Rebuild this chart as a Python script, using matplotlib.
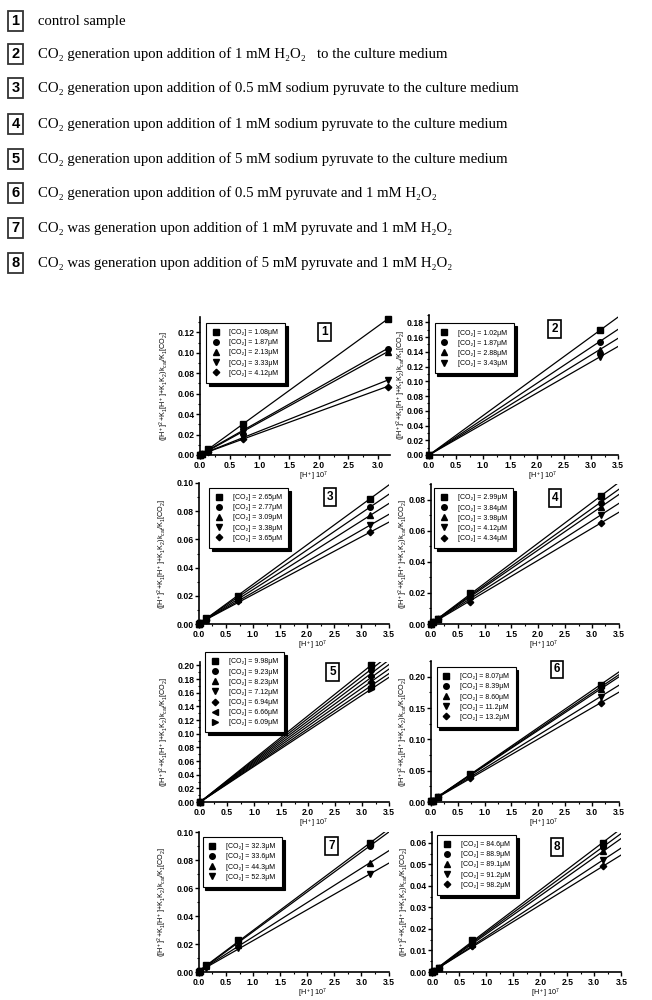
import numpy as np
import matplotlib
matplotlib.use('Agg')
import matplotlib.pyplot as plt
from matplotlib.ticker import MultipleLocator, FormatStrFormatter

# condition descriptions (numbered boxes at top)
conditions = [
    'control sample',
    'CO\u2082 generation upon addition of 1 mM H\u2082O\u2082   to the culture medium',
    'CO\u2082 generation upon addition of 0.5 mM sodium pyruvate to the culture medium',
    'CO\u2082 generation upon addition of 1 mM sodium pyruvate to the culture medium',
    'CO\u2082 generation upon addition of 5 mM sodium pyruvate to the culture medium',
    'CO\u2082 generation upon addition of 0.5 mM pyruvate and 1 mM H\u2082O\u2082',
    'CO\u2082 was generation upon addition of 1 mM pyruvate and 1 mM H\u2082O\u2082',
    'CO\u2082 was generation upon addition of 5 mM pyruvate and 1 mM H\u2082O\u2082',
]

# [H+] 10^7 values
h_full = [0.0, 0.03, 0.13, 0.73, 3.16]
h_two = [0.0, 3.16]

# CO2 concentrations (uM) per panel
co2_1 = ['1.08', '1.87', '2.13', '3.33', '4.12']
co2_2 = ['1.02', '1.87', '2.88', '3.43']
co2_3 = ['2.65', '2.77', '3.09', '3.38', '3.65']
co2_4 = ['2.99', '3.84', '3.98', '4.12', '4.34']
co2_5 = ['9.98', '9.23', '8.23', '7.12', '6.94', '6.66', '6.09']
co2_6 = ['8.07', '8.39', '8.60', '11.2', '13.2']
co2_7 = ['32.3', '33.6', '44.3', '52.3']
co2_8 = ['84.6', '88.9', '89.1', '91.2', '98.2']

y_1 = [[0.000, 0.001, 0.006, 0.030, 0.133],
       [0.000, 0.001, 0.005, 0.025, 0.104],
       [0.000, 0.001, 0.004, 0.023, 0.101],
       [0.000, 0.001, 0.003, 0.018, 0.073],
       [0.000, 0.001, 0.003, 0.016, 0.067]]
y_2 = [[0.0, 0.169],
       [0.0, 0.154],
       [0.0, 0.143],
       [0.0, 0.133]]
y_3 = [[0.000, 0.001, 0.004, 0.020, 0.089],
       [0.000, 0.001, 0.004, 0.019, 0.083],
       [0.000, 0.001, 0.003, 0.018, 0.077],
       [0.000, 0.001, 0.003, 0.017, 0.070],
       [0.000, 0.001, 0.003, 0.016, 0.065]]
y_4 = [[0.000, 0.001, 0.003, 0.020, 0.082],
       [0.000, 0.001, 0.003, 0.019, 0.078],
       [0.000, 0.001, 0.003, 0.018, 0.075],
       [0.000, 0.001, 0.003, 0.016, 0.070],
       [0.000, 0.001, 0.003, 0.014, 0.065]]
y_5 = [[0.0, 0.200],
       [0.0, 0.194],
       [0.0, 0.188],
       [0.0, 0.182],
       [0.0, 0.176],
       [0.0, 0.170],
       [0.0, 0.165]]
y_6 = [[0.001, 0.002, 0.008, 0.045, 0.187],
       [0.001, 0.002, 0.008, 0.044, 0.183],
       [0.001, 0.002, 0.008, 0.043, 0.180],
       [0.001, 0.002, 0.008, 0.040, 0.168],
       [0.001, 0.002, 0.008, 0.038, 0.158]]
y_7 = [[0.000, 0.001, 0.005, 0.023, 0.092],
       [0.000, 0.001, 0.004, 0.022, 0.090],
       [0.000, 0.001, 0.004, 0.019, 0.078],
       [0.000, 0.001, 0.003, 0.017, 0.070]]
y_8 = [[0.000, 0.0005, 0.002, 0.015, 0.060],
       [0.000, 0.0005, 0.002, 0.014, 0.058],
       [0.000, 0.0005, 0.002, 0.013, 0.056],
       [0.000, 0.0005, 0.002, 0.012, 0.052],
       [0.000, 0.0005, 0.002, 0.012, 0.049]]

markers = ['s', 'o', '^', 'v', 'D', '<', '>']

panels = [
    (h_full, y_1, co2_1, 3.2, 0.135, 0.02),
    (h_two, y_2, co2_2, 3.5, 0.19, 0.02),
    (h_full, y_3, co2_3, 3.5, 0.10, 0.02),
    (h_full, y_4, co2_4, 3.5, 0.09, 0.02),
    (h_two, y_5, co2_5, 3.5, 0.205, 0.02),
    (h_full, y_6, co2_6, 3.5, 0.225, 0.05),
    (h_full, y_7, co2_7, 3.5, 0.10, 0.02),
    (h_full, y_8, co2_8, 3.5, 0.065, 0.01),
]

# layout (figure fractions) and decorations
ax_pos = [[0.307, 0.545, 0.291, 0.138], [0.658, 0.545, 0.290, 0.140],
          [0.305, 0.376, 0.291, 0.141], [0.661, 0.376, 0.288, 0.140],
          [0.307, 0.198, 0.290, 0.140], [0.661, 0.198, 0.288, 0.141],
          [0.305, 0.028, 0.291, 0.140], [0.663, 0.028, 0.290, 0.140]]
leg_pos = [(0.03, 0.957), (0.03, 0.94), (0.053, 0.965), (0.016, 0.97),
           (0.026, 1.07), (0.03, 0.957), (0.02, 0.964), (0.026, 0.979)]
num_pos = [(0.655, 0.89), (0.664, 0.90), (0.69, 0.90), (0.66, 0.90),
           (0.70, 0.93), (0.67, 0.94), (0.70, 0.90), (0.66, 0.89)]

sans = ['Liberation Sans', 'DejaVu Sans']
serif = ['Liberation Serif', 'DejaVu Serif']
plt.rcParams['font.family'] = sans
plt.rcParams['mathtext.default'] = 'regular'

fig = plt.figure(figsize=(6.52, 10), dpi=100)

# top list of conditions
row_y = [21, 54, 88, 124, 159, 193, 228, 263]
for i, txt in enumerate(conditions):
    yy = 1 - row_y[i] / 1000
    fig.text(15.5 / 652, yy, str(i + 1), ha='center', va='center', fontsize=10.5,
             fontweight='bold', family=sans,
             bbox=dict(boxstyle='square,pad=0.22', fc='white', ec='#333333', lw=1.3))
    fig.text(38 / 652, yy, txt, ha='left', va='center', fontsize=10.6, family=serif)

ylab = r'$([H^+]^2\!+\!K_1[H^+]\!+\!K_1K_2)k_{cat}/K_1[CO_2]$'

for k, (xs, ys, conc, xmax, ymax, ystep) in enumerate(panels):
    ax = fig.add_axes(ax_pos[k])
    xs = np.array(xs)
    for j, yv in enumerate(ys):
        a, b = np.polyfit(xs, yv, 1)
        xl = np.array([0.0, 3.6])
        ax.plot(xl, a * xl + b, color='black', lw=0.9)
        ax.plot(xs, yv, linestyle='none', marker=markers[j], color='black',
                markersize=4.0 if markers[j] != 'D' else 3.3, clip_on=False,
                label='[CO\u2082] = ' + conc[j] + '\u03bcM')
    ax.set_xlim(0, xmax)
    ax.set_ylim(0, ymax)
    ax.xaxis.set_major_locator(MultipleLocator(0.5))
    ax.xaxis.set_minor_locator(MultipleLocator(0.25))
    ax.yaxis.set_major_locator(MultipleLocator(ystep))
    ax.yaxis.set_minor_locator(MultipleLocator(ystep / 2))
    ax.xaxis.set_major_formatter(FormatStrFormatter('%.1f'))
    ax.yaxis.set_major_formatter(FormatStrFormatter('%.2f'))
    for s in ['top', 'right']:
        ax.spines[s].set_visible(False)
    for s in ['left', 'bottom']:
        ax.spines[s].set_linewidth(1.2)
    ax.tick_params(which='major', direction='out', length=3, width=1, pad=1)
    ax.tick_params(which='minor', direction='out', length=1.5, width=0.8)
    for lab in ax.get_xticklabels() + ax.get_yticklabels():
        lab.set_fontsize(6.2)
        lab.set_fontweight('bold')
        lab.set_family(sans)
    ax.set_ylabel(ylab, fontsize=5.2)
    ax.yaxis.set_label_coords(-0.155 if k % 2 == 0 else -0.11, 0.5)
    ax.set_xlabel('[H$^+$] 10$^7$', fontsize=5.2)
    ax.xaxis.set_label_coords(0.6, -0.105)
    leg = ax.legend(loc='upper left', bbox_to_anchor=leg_pos[k], frameon=True,
                    fancybox=False, edgecolor='black', framealpha=1,
                    shadow={'facecolor': 'black', 'edgecolor': 'black', 'alpha': 1},
                    prop={'family': sans, 'size': 5.0}, handlelength=1.0,
                    handletextpad=1.5, labelspacing=0.45, borderpad=0.9,
                    borderaxespad=0)
    leg.get_frame().set_linewidth(0.8)
    ax.text(num_pos[k][0], num_pos[k][1], str(k + 1), transform=ax.transAxes,
            ha='center', va='center', fontsize=8.5, fontweight='bold', family=sans,
            bbox=dict(boxstyle='square,pad=0.25', fc='white', ec='black', lw=1.2))

fig.savefig('out.png', dpi=100)
